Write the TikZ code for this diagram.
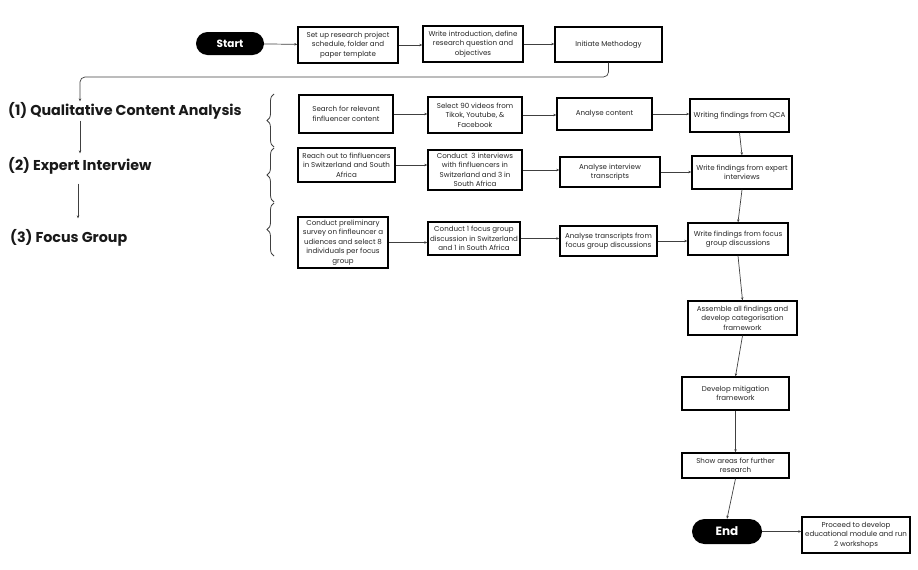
\documentclass[tikz,border=0pt]{standalone}
\usepackage{fontspec}
\setmainfont{Poppins}
\usetikzlibrary{arrows.meta,decorations.pathreplacing}
\begin{document}
\begin{tikzpicture}[x=1pt,y=-1pt,
  box/.style={draw=black,line width=1.4pt,fill=white,inner sep=1pt,align=center,
    font=\fontsize{7.1}{9.4}\selectfont,text=black!85},
  pill/.style={fill=black,rounded corners=11.5pt,text=white,font=\bfseries\fontsize{10.5}{12}\selectfont,
    minimum width=68pt,minimum height=23pt,inner sep=0pt},
  lab/.style={anchor=west,font=\bfseries\fontsize{14.3}{16}\selectfont,text=black!90,inner sep=1pt},
  arr/.style={draw=black!75,line width=0.7pt,-{Stealth[length=3pt,width=2.5pt]}},
  brc/.style={draw=black!75,line width=0.8pt,decorate,decoration={brace,amplitude=7pt}}]
\useasboundingbox (0,0) rectangle (918,570);
% top row
\node[pill] (start) at (230,43.5) {Start};
\node[box,minimum width=100pt,minimum height=36pt] (b0) at (348,45) {Set up research project\\schedule, folder and\\paper template};
\node[box,minimum width=100pt,minimum height=36pt] (b1) at (473,44) {Write introduction, define\\research question and\\objectives};
\node[box,minimum width=107pt,minimum height=35pt] (b2) at (608.5,44.5) {Initiate Methodogy};
% left labels
\node[lab] (l1) at (7,111) {(1) Qualitative Content Analysis};
\node[lab] (l2) at (7,166) {(2) Expert Interview};
\node[lab] (l3) at (9,238) {(3) Focus Group};
\coordinate (k) at (80,77);
\coordinate (k2) at (78,200);
% braces
\draw[brc] (274,147) -- (274,94);
\draw[brc] (274,202) -- (274,148);
\draw[brc] (274,256) -- (274,203);
% row 1
\node[box,minimum width=94pt,minimum height=38pt] (a1) at (346,114) {Search for relevant\\finfluencer content};
\node[box,minimum width=94pt,minimum height=36pt] (a2) at (475,115) {Select 90 videos from\\Tikok, Youtube, \&\\Facebook};
\node[box,minimum width=95pt,minimum height=32pt] (a3) at (604.5,114) {Analyse content};
\node[box,minimum width=99pt,minimum height=33pt] (a4) at (739.5,115.5) {Writing findings from QCA};
% row 2
\node[box,minimum width=97pt,minimum height=34pt] (c1) at (346.5,165) {Reach out to finfluencers\\in Switzerland and South\\Africa};
\node[box,minimum width=94pt,minimum height=40pt] (c2) at (475,170) {Conduct\ \ 3 interviews\\with finfluencers in\\Switzerland and 3 in\\South Africa};
\node[box,minimum width=100pt,minimum height=30pt] (c3) at (610,172) {Analyse interview\\transcripts};
\node[box,minimum width=100pt,minimum height=33pt] (c4) at (742,172.5) {Write findings from expert\\interviews};
% row 3
\node[box,minimum width=90pt,minimum height=51pt] (d1) at (343,242.5) {Conduct preliminary\\survey on finfleuncer a\\udiences and select 8\\individuals per focus\\group};
\node[box,minimum width=92pt,minimum height=33pt] (d2) at (474,238.5) {Conduct 1 focus group\\discussion in Switzerland\\and 1 in South Africa};
\node[box,minimum width=97pt,minimum height=30pt] (d3) at (608.5,241) {Analyse transcripts from\\focus group discussions};
\node[box,minimum width=100pt,minimum height=32pt] (d4) at (738,239) {Write findings from focus\\group discussions};
% vertical chain
\node[box,minimum width=109pt,minimum height=34pt] (e1) at (742.5,318) {Assemble all findings and\\develop categorisation\\framework};
\node[box,minimum width=107pt,minimum height=33pt] (e2) at (735.5,393.5) {Develop mitigation\\framework};
\node[box,minimum width=107pt,minimum height=25pt] (e3) at (735.5,465.5) {Show areas for further\\research};
\node[pill,minimum width=70pt,minimum height=25pt,rounded corners=12.5pt,font=\bfseries\fontsize{12}{14}\selectfont] (end) at (727,531.5) {End};
\node[box,minimum width=108pt,minimum height=36pt] (f) at (856,535) {Proceed to develop\\educational module and run\\2 workshops};
% connectors
\draw[arr] (start) -- (b0);
\draw[arr] (b0.east) -- (b0.east -| b1.west);
\draw[arr] (b1.east) -- (b1.east -| b2.west);
\draw[arr,rounded corners=5pt] (b2.south) |- (k) -- (l1.north -| k);
\draw[arr,shorten >=3pt] (l1.south -| k) -- (l2.north -| k);
\draw[arr,shorten <=8pt,shorten >=10pt] (l2.south -| k2) -- (l3.north -| k2);
\draw[arr] (a1.east) -- (a1.east -| a2.west);
\draw[arr] (a2.east) -- (a2.east -| a3.west);
\draw[arr] (a3.east) -- (a3.east -| a4.west);
\draw[arr] (c1.east) -- (c1.east -| c2.west);
\draw[arr] (c2.east) -- (c2.east -| c3.west);
\draw[arr] (c3.east) -- (c3.east -| c4.west);
\draw[arr] (d1.east) -- (d1.east -| d2.west);
\draw[arr] (d2.east) -- (d2.east -| d3.west);
\draw[arr] (d3.east) -- (d3.east -| d4.west);
\draw[arr] (a4.south) -- (c4.north);
\draw[arr] (c4.south) -- (d4.north);
\draw[arr] (d4.south) -- (e1.north);
\draw[arr] (e1.south) -- (e2.north);
\draw[arr] (e2.south) -- (e3.north);
\draw[arr] (e3.south) -- (end.north);
\draw[arr] (end.east) -- (end.east -| f.west);
\end{tikzpicture}
\end{document}
